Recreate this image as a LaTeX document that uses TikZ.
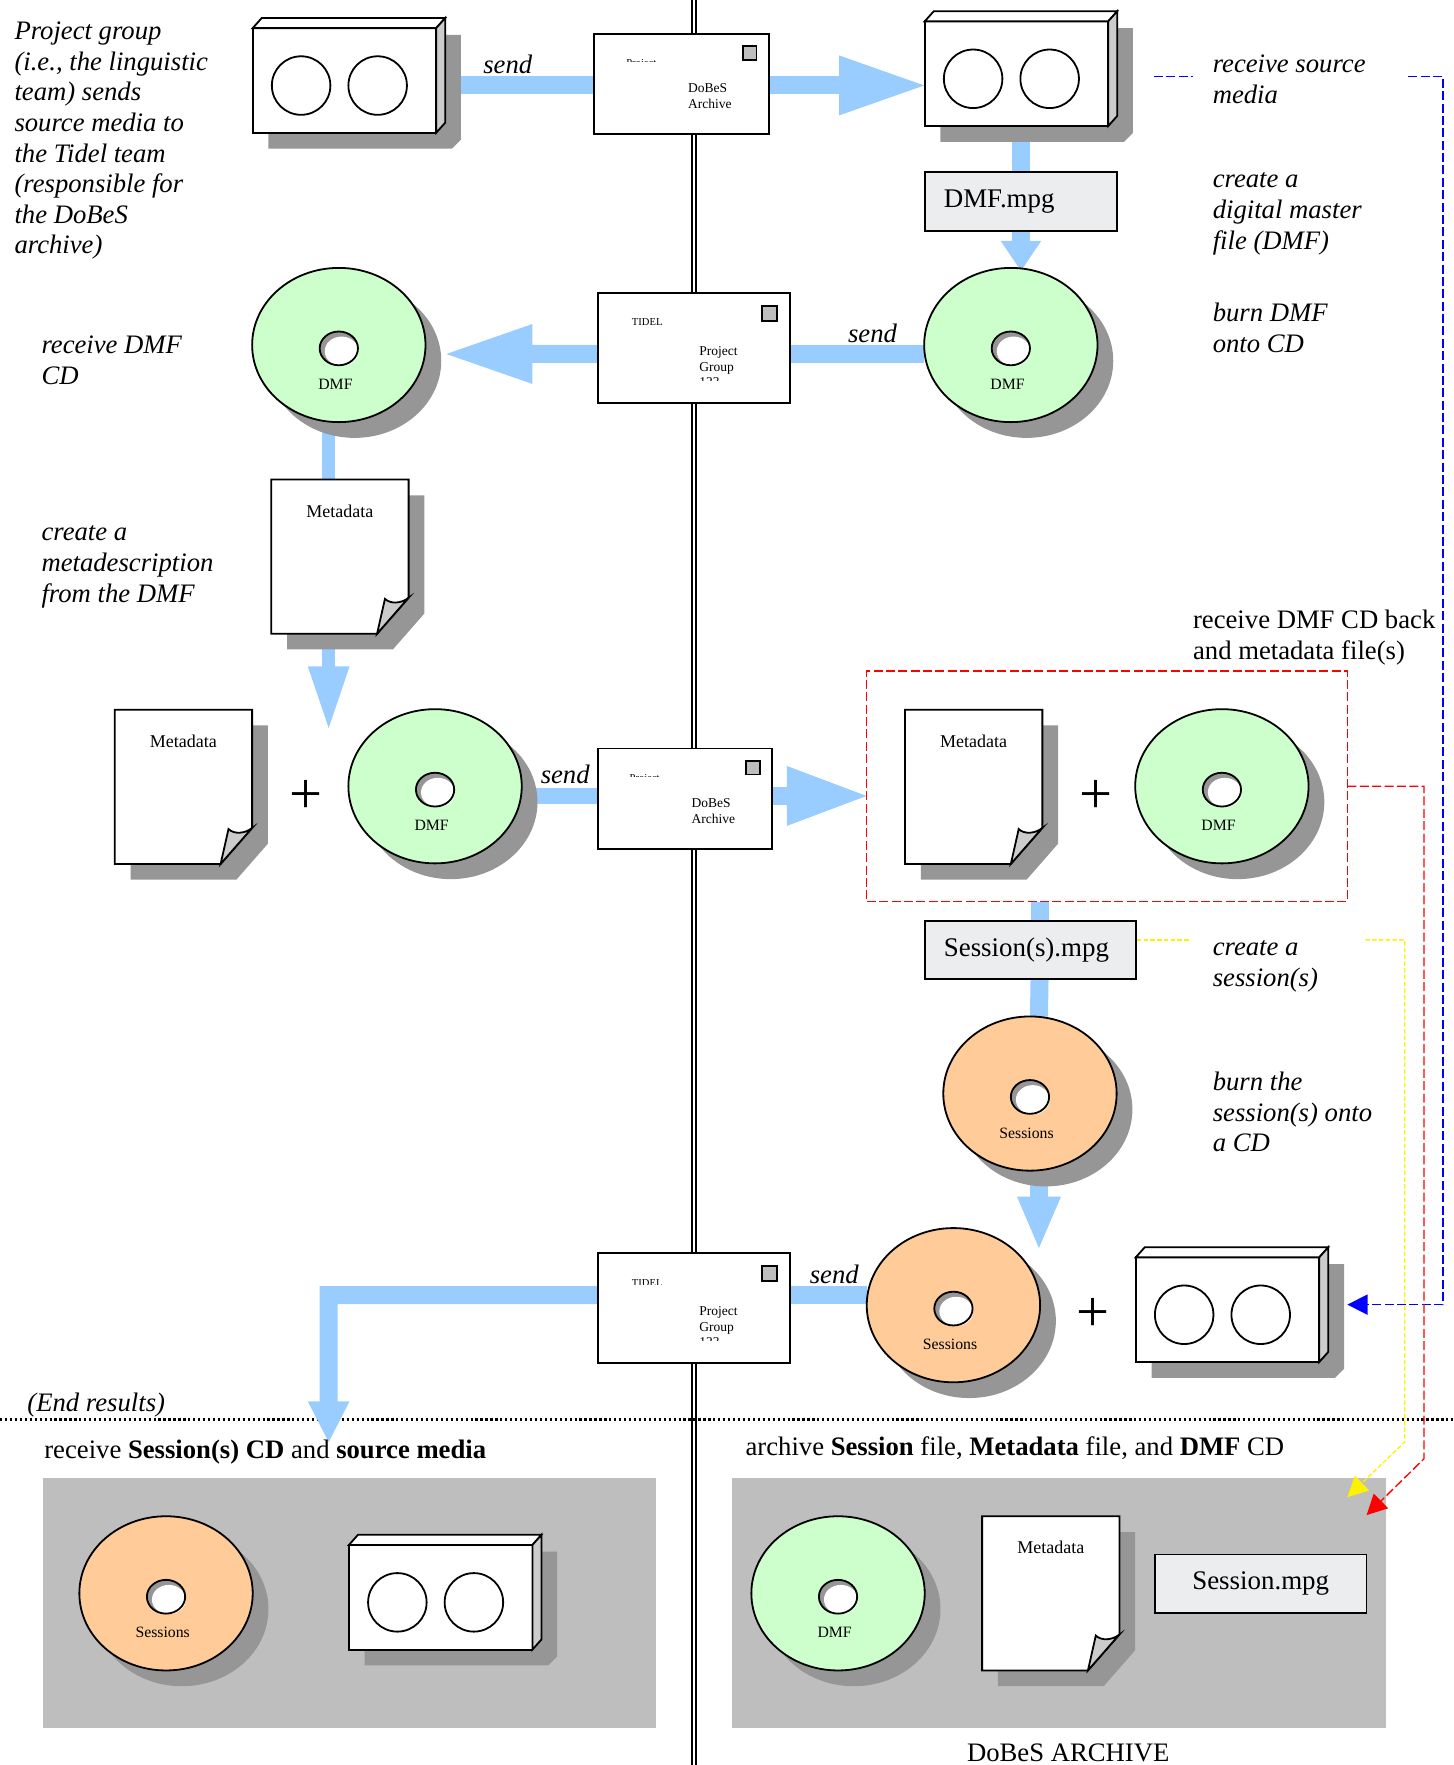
\documentclass[tikz,border=0pt]{standalone}
\usepackage{fontspec}
\setmainfont{Liberation Serif}
\usetikzlibrary{
    arrows.meta,
    shapes.geometric,
    backgrounds
}
\definecolor{flowblue}{HTML}{99CCFF}
\definecolor{discgreen}{HTML}{CCFFCC}
\definecolor{discorange}{HTML}{FFCC99}
\definecolor{dropgray}{HTML}{969696}
\definecolor{panelgray}{HTML}{BEBEBE}
\definecolor{sidegray}{HTML}{CCCCCC}
\definecolor{filegray}{HTML}{ECEDEF}
\tikzset{
    outline/.style={draw=black, line width=0.8pt, outer sep=0pt},
    drop/.style={fill=dropgray},
    caption/.style={font=\fontsize{11.85}{13.6}\selectfont\itshape, align=left, anchor=west, inner sep=0pt},
    plain/.style={font=\fontsize{11.85}{13.6}\selectfont, align=left, anchor=west, inner sep=0pt},
    plus/.style={font=\fontsize{26}{26}\selectfont, inner sep=0pt},
    filebox/.style={outline, fill=filegray, font=\fontsize{11.95}{13.6}\selectfont, anchor=north west, minimum height=26pt, align=left, inner ysep=0pt, inner xsep=8.5pt},
    flow/.style={line width=8pt, draw=flowblue},
    thinflow/.style={line width=6pt, draw=flowblue},
    bluelink/.style={draw=blue, line width=0.6pt, dash pattern=on 4pt off 1.5pt},
    redlink/.style={draw=red, line width=0.6pt, dash pattern=on 4pt off 1.5pt},
    yellowlink/.style={draw=yellow, line width=0.6pt, dash pattern=on 2pt off 1pt},
    linkhead/.style={-{Triangle[length=9pt,width=9pt]}}
}
\newcommand{\tapebox}[3]{
    \begin{scope}[shift={(#2, #3)}]
        \fill[drop] (14, 6) -- (185, 6) -- (185, 99) -- (177, 107) -- (14, 107) -- cycle;
        \node[outline, fill=white, minimum width=81.5pt, minimum height=46.5pt, inner sep=0pt, anchor=north west] (#1) at (0, 0) {};
        \draw[outline, fill=white] (0, 0) -- (8, -9) -- (171, -9) -- (163, 0) -- cycle;
        \draw[outline, fill=sidegray] (163, 0) -- (171, -9) -- (171, 84) -- (163, 93) -- cycle;
        \draw[outline] (43, 51) circle (13pt);
        \draw[outline] (111, 51) circle (13pt);
    \end{scope}
}
\newcommand{\discshape}[5]{
    \begin{scope}[shift={(#2, #3)}]
        \fill[drop] (14, 14) ellipse (38.5pt and 34.25pt);
        \node[outline, fill=#4, shape=ellipse, minimum width=77pt, minimum height=68.5pt, inner sep=0pt] (#1) at (0, 0) {};
        \fill[dropgray] (0, 3) ellipse (8.5pt and 7.5pt);
        \fill[white] (2.5, 5.5) ellipse (7.5pt and 6.5pt);
        \draw[outline] (0, 3) ellipse (8.5pt and 7.5pt);
        \node[font=\fontsize{7}{8}\selectfont, inner sep=0pt] (#1-label) at (-3, 35) {#5};
    \end{scope}
}
\newcommand{\pagesheet}[3]{
    \begin{scope}[shift={(#2, #3)}]
        \fill[drop] (14, 14) -- (136, 14) -- (136, 119) -- (108, 151) -- (14, 151) -- cycle;
        \node[minimum width=61pt, minimum height=68.5pt, inner sep=0pt, outer sep=0pt, anchor=north west] (#1) at (0, 0) {};
        \draw[outline, fill=white] (0, 0) -- (122, 0) -- (122, 105) -- (94, 137) -- (0, 137) -- cycle;
        \draw[outline, fill=sidegray] (94, 137) -- (101, 106) .. controls (106, 111) and (116, 110) .. (122, 105) -- cycle;
        \node[font=\fontsize{8}{9}\selectfont, inner sep=0pt] (#1-label) at (61, 28) {Metadata};
    \end{scope}
}
\newcommand{\mailarchive}[3]{
    \begin{scope}[shift={(#2, #3)}]
        \node[outline, fill=white, minimum width=77.5pt, minimum height=44.5pt, inner sep=0pt, anchor=north west] (#1) at (0, 0) {};
        \draw[outline, fill=panelgray] (132, 11) rectangle (144, 23);
        \begin{scope}
            \clip (20, 15) rectangle (70, 25);
            \node[font=\fontsize{4.7}{5}\selectfont, inner sep=0pt, anchor=north west] (#1-from) at (28, 22.5) {Project};
        \end{scope}
        \node[font=\fontsize{6}{7}\selectfont, align=left, inner sep=0pt, anchor=west] (#1-to) at (83, 55.5) {DoBeS\\Archive};
    \end{scope}
}
\newcommand{\mailtidel}[3]{
    \begin{scope}[shift={(#2, #3)}]
        \node[outline, fill=white, minimum width=85.5pt, minimum height=49pt, inner sep=0pt, anchor=north west] (#1) at (0, 0) {};
        \draw[outline, fill=panelgray] (146, 12) rectangle (159, 25);
        \begin{scope}
            \clip (20, 15) rectangle (70, 28);
            \node[font=\fontsize{4.7}{5}\selectfont, inner sep=0pt, anchor=north west] (#1-from) at (30, 23) {TIDEL};
        \end{scope}
        \node[font=\fontsize{6}{7}\selectfont, align=left, inner sep=0pt, anchor=west] (#1-to) at (90, 60) {Project\\Group};
        \begin{scope}
            \clip (85, 70) rectangle (125, 78);
            \node[font=\fontsize{6}{7}\selectfont, inner sep=0pt, anchor=north west] (#1-num) at (90, 75) {123};
        \end{scope}
    \end{scope}
}
\begin{document}
\begin{tikzpicture}[x=0.5pt, y=-0.5pt]
    \useasboundingbox (0, 0) rectangle (1291, 1568);

    \tapebox{tapeA}{224.5}{25}
    \tapebox{tapeB}{821.5}{19}
    \tapebox{tapeC}{1009}{1117}
    \tapebox{tapeD}{310}{1372.5}

    \mailarchive{mailA}{528}{30}
    \mailtidel{mailB}{531}{260}
    \mailarchive{mailC}{531}{665}
    \mailtidel{mailD}{531}{1113}

    \discshape{discA}{301}{306.5}{discgreen}{DMF}
    \discshape{discB}{898}{306.5}{discgreen}{DMF}
    \discshape{discC}{386.5}{698.5}{discgreen}{DMF}
    \discshape{discD}{1085.5}{698.5}{discgreen}{DMF}
    \discshape{discE}{915}{971.5}{discorange}{Sessions}
    \discshape{discF}{847}{1159.5}{discorange}{Sessions}
    \discshape{discG}{147.5}{1415.5}{discorange}{Sessions}
    \discshape{discH}{744.5}{1415.5}{discgreen}{DMF}

    \pagesheet{pageA}{241}{426}
    \pagesheet{pageB}{102}{630.5}
    \pagesheet{pageC}{804}{630.5}
    \pagesheet{pageD}{872.5}{1347}

    \node[filebox, text width=68.5pt] (dmfFile) at (821.5, 153) {DMF.mpg};
    \node[filebox, text width=77pt] (sessFile) at (821.5, 818) {Session(s).mpg};
    \node[filebox, text width=77pt, align=center] (archFile) at (1026, 1381) {Session.mpg};

    \node[draw=red, line width=0.6pt, dash pattern=on 4pt off 1.5pt, minimum width=213.5pt, minimum height=102.5pt, inner sep=0pt, outer sep=0pt] (redFrame) at (983.5, 698.5) {};

    \node[plus] (plusA) at (272, 708) {+};
    \node[plus] (plusB) at (974, 708) {+};
    \node[plus] (plusC) at (971, 1168) {+};

    \node[caption] (sendA) at (429, 57) {send};
    \node[caption] (sendB) at (753, 296) {send};
    \node[caption] (sendC) at (480, 688) {send};
    \node[caption] (sendD) at (719, 1132) {send};

    \node[caption] (noteGroup) at (12.5, 125) {Project group\\(i.e., the linguistic\\team) sends\\source media to\\the Tidel team\\(responsible for\\the DoBeS\\archive)};
    \node[caption] (noteReceive) at (36.5, 320) {receive DMF\\CD};
    \node[caption] (noteMeta) at (36.5, 503.5) {create a\\metadescription\\from the DMF};
    \node[caption] (noteSource) at (1077, 70.5) {receive source\\media};
    \node[caption] (noteMaster) at (1077, 190) {create a\\digital master\\file (DMF)};
    \node[caption] (noteBurn) at (1077, 291.5) {burn DMF\\onto CD};
    \node[plain] (noteBack) at (1059.5, 566.5) {receive DMF CD back\\and metadata file(s)};
    \node[caption] (noteSession) at (1077, 858.5) {create a\\session(s)};
    \node[caption] (noteBurnS) at (1077, 988) {burn the\\session(s) onto\\a CD};
    \node[caption] (noteEnd) at (24, 1248) {(End results)};
    \node[plain] (headLeft) at (39, 1290) {receive \textbf{Session(s) CD} and \textbf{source media}};
    \node[plain] (headRight) at (662, 1286.5) {archive \textbf{Session} file, \textbf{Metadata} file, and \textbf{DMF} CD};
    \node[plain, anchor=center] (headArchive) at (949, 1557) {DoBeS ARCHIVE};

    \coordinate (blueA) at (1025, 68);
    \coordinate (blueB) at (1060, 68);
    \coordinate (blueC) at (1251, 68);
    \coordinate (blueD) at (1282, 68);
    \coordinate (blueE) at (1282, 1159);
    \coordinate (blueTip) at (1197, 1159);
    \coordinate (yellowA) at (1010, 835);
    \coordinate (yellowB) at (1058, 835);
    \coordinate (yellowC) at (1213, 835);
    \coordinate (yellowD) at (1248, 835);
    \coordinate (yellowE) at (1248, 1281);
    \coordinate (yellowTip) at (1197, 1330);
    \coordinate (redA) at (1265, 698.5);
    \coordinate (redB) at (1265, 1296);
    \coordinate (redTip) at (1214, 1346);
    \coordinate (discATip) at (393, 314.5);
    \coordinate (plusTip) at (292, 650);
    \coordinate (discTip) at (923, 1111);
    \coordinate (endTurn) at (292, 1150.5);
    \coordinate (endTip) at (292, 1282);
    \coordinate (midTop) at (616.5, 0);
    \coordinate (midBot) at (616.5, 1568);
    \coordinate (lineL) at (0, 1261);
    \coordinate (lineR) at (1291, 1261);

    \draw[bluelink] (blueA) -- (blueB);
    \draw[bluelink, linkhead] (blueC) -- (blueD) -- (blueE) -- (blueTip);
    \draw[yellowlink] (yellowA) -- (yellowB);
    \draw[yellowlink, linkhead] (yellowC) -- (yellowD) -- (yellowE) -- (yellowTip);
    \draw[redlink, linkhead] (redFrame.east) -- (redA) -- (redB) -- (redTip);

    \begin{pgfonlayer}{background}
        \fill[panelgray] (38, 1313) rectangle (583, 1535);
        \fill[panelgray] (650, 1313) rectangle (1231, 1535);
        \draw[line width=0.9pt, double=white, double distance=1.2pt] (midTop) -- (midBot);
        \draw[line width=1pt, dash pattern=on 1pt off 1.2pt] (lineL) -- (lineR);

        \draw[flow] ([yshift=-0.7pt]tapeA.east |- mailA.west) -- ([yshift=-0.7pt]mailA.west);
        \draw[flow, -{Triangle[length=39.5pt,width=24pt]}] ([yshift=-0.7pt]mailA.east) -- ([xshift=1.5pt,yshift=-0.7pt]tapeB.west |- mailA.east);
        \draw[flow] (dmfFile.north |- tapeB.south) -- (dmfFile.north);
        \draw[flow, -{Triangle[length=13.5pt,width=17pt]}] (dmfFile.south) -- ([yshift=-1.5pt]dmfFile.south |- discB.north);
        \draw[flow] ([yshift=-2.7pt]discB.west |- mailB.east) -- ([yshift=-2.7pt]mailB.east);
        \draw[flow, -{Triangle[length=40pt,width=24pt]}] ([yshift=-2.7pt]mailB.west) -- (discATip);
        \draw[thinflow] ([xshift=-4.5pt]discA.south) -- ([xshift=-4.5pt]discA.south |- pageA.north);
        \draw[thinflow, -{Triangle[length=29pt,width=16.5pt]}] (plusTip |- pageA.south) -- (plusTip);
        \draw[line width=7pt, draw=flowblue] ([yshift=1.2pt]discC.east |- mailC.west) -- ([yshift=1.2pt]mailC.west);
        \draw[flow, -{Triangle[length=37pt,width=24pt]}] ([yshift=1.2pt]mailC.east) -- ([xshift=1.5pt,yshift=1.2pt]redFrame.west |- mailC.east);
        \draw[flow] ([xshift=4pt]sessFile.north |- redFrame.south) -- ([xshift=4pt]sessFile.north);
        \draw[flow] ([xshift=4pt]sessFile.south) -- ([xshift=4pt]discE.north);
        \draw[flow, -{Triangle[length=24pt,width=17.5pt]}] ([xshift=4pt]discE.south) -- (discTip);
        \draw[flow] ([yshift=5.7pt]discF.west |- mailD.east) -- ([yshift=5.7pt]mailD.east);
        \draw[flow, -{Triangle[length=18.5pt,width=17pt]}] ([yshift=5.7pt]mailD.west) -- (endTurn) -- (endTip);
    \end{pgfonlayer}
\end{tikzpicture}
\end{document}
